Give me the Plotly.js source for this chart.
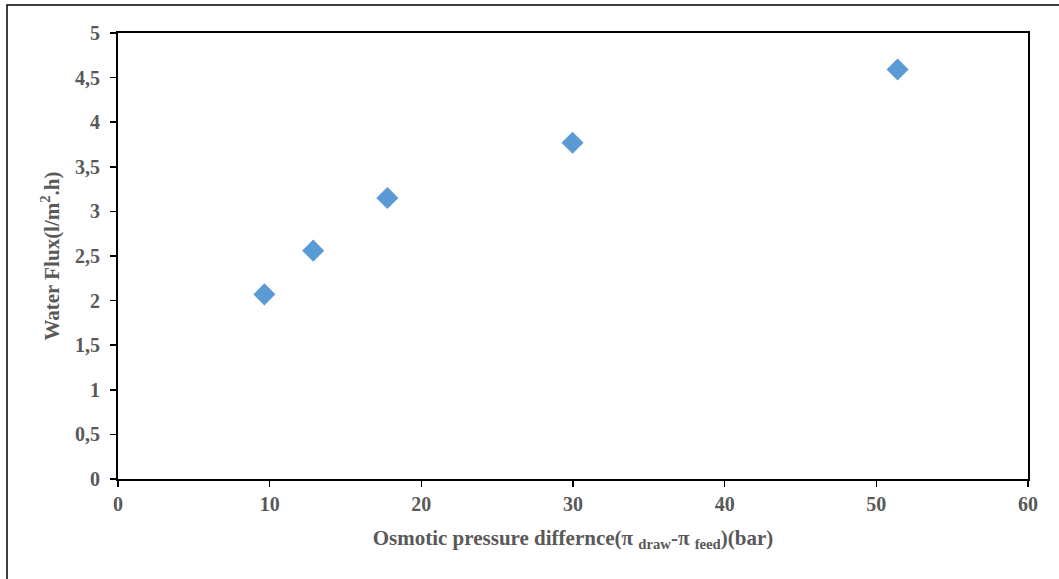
<!DOCTYPE html>
<html>
<head>
<meta charset="utf-8">
<script src="https://cdn.plot.ly/plotly-3.0.1.min.js"></script>
<style>
  html, body { margin: 0; padding: 0; background: #fff; }
  #chart { width: 1059px; height: 579px; }
</style>
</head>
<body>
<div id="chart"></div>
<script>
const pressureDiff = [9.65, 12.87, 17.76, 29.97, 51.4];
const waterFlux = [2.07, 2.56, 3.15, 3.77, 4.59];
const yTickVals = [0, 0.5, 1, 1.5, 2, 2.5, 3, 3.5, 4, 4.5, 5];
const yTickText = ['0', '0,5', '1', '1,5', '2', '2,5', '3', '3,5', '4', '4,5', '5'];
const xTickVals = [0, 10, 20, 30, 40, 50, 60];

const fontFam = '"Liberation Serif", "Times New Roman", serif';
const grey = '#595959';

const trace = {
  x: pressureDiff,
  y: waterFlux,
  mode: 'markers',
  type: 'scatter',
  marker: { symbol: 'diamond', size: 17, color: '#5B9BD5', line: { width: 0 } },
  hoverinfo: 'x+y'
};

const L = 118, R = 1028, T = 33, B = 479;
const W = R - L, H = B - T;

const layout = {
  width: 1059,
  height: 579,
  margin: { l: L, r: 1059 - R, t: T, b: 579 - B },
  paper_bgcolor: '#fff',
  plot_bgcolor: '#fff',
  showlegend: false,
  font: { family: fontFam, color: grey, size: 20 },
  xaxis: {
    range: [0, 60],
    tickvals: xTickVals,
    ticks: 'outside',
    ticklen: 6,
    tickwidth: 1.5,
    tickcolor: '#000',
    showgrid: false,
    zeroline: false,
    showline: true,
    linecolor: '#000',
    linewidth: 2,
    mirror: true,
    tickfont: { family: fontFam, color: grey, size: 20, weight: 'bold' },
    title: {
      text: 'Osmotic pressure differnce(π <sub>draw</sub>-π <sub>feed</sub>)(bar)',
      font: { family: fontFam, color: grey, size: 21, weight: 'bold' },
      standoff: 16
    },
    fixedrange: true
  },
  yaxis: {
    range: [0, 5],
    tickvals: yTickVals,
    ticktext: yTickText,
    ticks: 'outside',
    ticklen: 6,
    tickwidth: 1.5,
    tickcolor: '#000',
    showgrid: false,
    zeroline: false,
    showline: true,
    linecolor: '#000',
    linewidth: 2,
    mirror: true,
    ticklabelstandoff: 6,
    tickfont: { family: fontFam, color: grey, size: 20, weight: 'bold' },
    title: {
      text: 'Water Flux(l/m<sup>2</sup>.h)',
      font: { family: fontFam, color: grey, size: 21, weight: 'bold' },
      standoff: 10
    },
    fixedrange: true
  },
  shapes: [{
    type: 'rect',
    xref: 'paper', yref: 'paper',
    x0: (7 - L) / W, x1: (1062 - L) / W,
    y0: (B - 585) / H, y1: (B - 5) / H,
    line: { color: '#000', width: 1.5 },
    fillcolor: 'rgba(0,0,0,0)',
    layer: 'below'
  }]
};

Plotly.newPlot('chart', [trace], layout, { displayModeBar: false, staticPlot: true });
</script>
</body>
</html>
